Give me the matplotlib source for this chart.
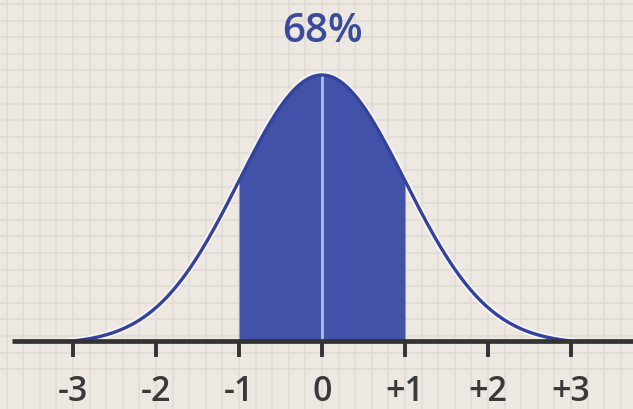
import numpy as np
import matplotlib.pyplot as plt

# Standard normal curve, shaded within one standard deviation
mean = 0.0
sd = 1.0
x_min, x_max = -3.0, 3.0
shade_lo, shade_hi = -1.0, 1.0
tick_values = [-3, -2, -1, 0, 1, 2, 3]
tick_labels = ["-3", "-2", "-1", "0", "+1", "+2", "+3"]
share_label = "68%"

BG = "#ede8e2"
GRID = "#e1dbd5"
FILL = "#4152a8"
LINE = "#33429a"
HALO = "#f7f4f6"
CENTER = "#aebbe8"
AXIS = "#333333"
TEXT_BLUE = "#3b4b9c"

plt.rcParams["font.family"] = ["Open Sans", "DejaVu Sans"]


def density(x):
    z = (x - mean) / sd
    tail = np.exp(-0.5 * ((x_max - mean) / sd) ** 2)
    # curve lowered so it meets the axis at +/-3 sd
    return (np.exp(-0.5 * z ** 2) - tail) / (sd * np.sqrt(2 * np.pi))


fig = plt.figure(figsize=(6.33, 4.09), dpi=100, facecolor=BG)
ax = fig.add_axes([0, 0, 1, 1])
ax.set_facecolor(BG)

px_x = 83.0      # pixels per sd
px_y = 674.3     # pixels per density unit
x0_px, base_px = 322.0, 341.0
W, H = 633.0, 409.0
ax.set_xlim(-x0_px / px_x, (W - x0_px) / px_x)
ax.set_ylim(-(H - base_px) / px_y, base_px / px_y)
ax.axis("off")

# graph-paper grid
gx = np.arange(-4.0, 4.01, 0.2)
for g in gx:
    ax.axvline(g, color=GRID, lw=1.2, zorder=0)
gy_step = 16.6 / px_y
gy = (base_px - 170.0) / px_y + np.arange(-12, 16) * gy_step
for g in gy:
    ax.axhline(g, color=GRID, lw=1.2, zorder=0)

xs = np.linspace(x_min, x_max, 600)
ys = density(xs)

# light halo under the curve, then the shaded band, then the curve itself
ax.plot(xs, ys, color=HALO, lw=5.0, zorder=1)

xf = np.linspace(shade_lo, shade_hi, 300)
ax.fill_between(xf, 0, density(xf), color=FILL, lw=0, zorder=2)

ax.plot([mean, mean], [0, density(mean)], color=CENTER, lw=2.0, zorder=3,
        solid_capstyle="butt")

ax.plot(xs, ys, color=LINE, lw=2.4, zorder=4)

# horizontal axis with ticks
ax.plot([(12 - x0_px) / px_x, (W - x0_px) / px_x], [0, 0], color=AXIS, lw=3.4,
        zorder=5, solid_capstyle="butt")
tick_len = 16.0 / px_y
for v, lab in zip(tick_values, tick_labels):
    ax.plot([v, v], [0, -tick_len], color=AXIS, lw=2.8, zorder=5,
            solid_capstyle="butt")
    ax.text(v, -(392 - base_px) / px_y, lab, ha="center", va="center",
            fontsize=24.5, fontweight="semibold", color="#3a3a3a", zorder=6)

ax.text(mean, (base_px - 32) / px_y, share_label, ha="center", va="center",
        fontsize=29, fontweight="semibold", color=TEXT_BLUE, zorder=6)

fig.savefig("out.png", dpi=100, facecolor=BG)
